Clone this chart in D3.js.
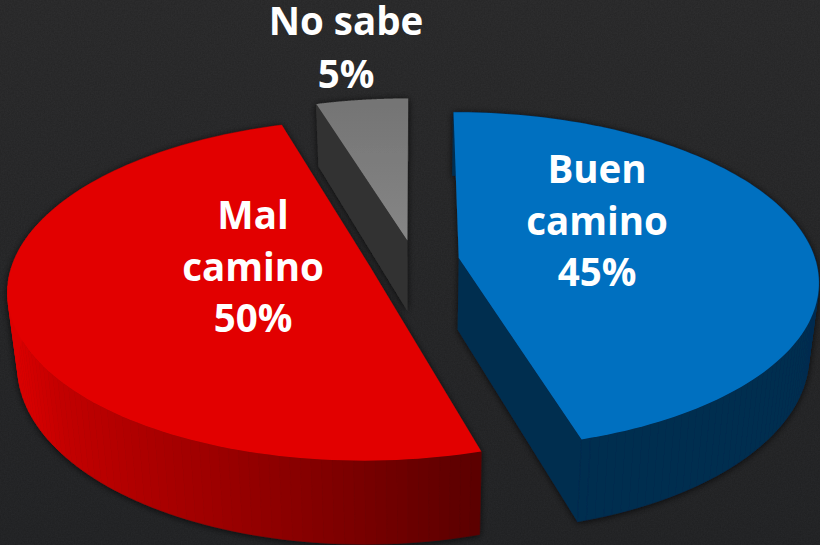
<!DOCTYPE html>
<html><head><meta charset="utf-8">
<script src="https://cdn.jsdelivr.net/npm/d3@7/dist/d3.min.js"></script>
<style>html,body{margin:0;padding:0;background:#28292b;overflow:hidden}svg{display:block}
text{font-family:"Open Sans",sans-serif;font-weight:700;fill:#fff;text-anchor:middle;font-size:38.5px}</style>
</head><body><svg id="c" width="820" height="545"></svg>
<script>
const categories = ["Buen camino", "Mal camino", "No sabe"];
const values = [45.4, 49.85, 4.75];
const labelLines = [["Buen", "camino"], ["Mal", "camino"], ["No sabe"]];

const W = 820, H = 545;
const svg = d3.select("#c");
const defs = svg.append("defs");

// background
const bg = defs.append("linearGradient").attr("id","bg").attr("x1",0).attr("x2",0).attr("y1",0).attr("y2",1);
bg.append("stop").attr("offset",0).attr("stop-color","#2d2d2e");
bg.append("stop").attr("offset",1).attr("stop-color","#252628");
const noise = defs.append("filter").attr("id","noise").attr("x",0).attr("y",0).attr("width","100%").attr("height","100%");
noise.append("feTurbulence").attr("type","fractalNoise").attr("baseFrequency",0.7).attr("numOctaves",2).attr("seed",4);
noise.append("feColorMatrix").attr("type","matrix").attr("values","0 0 0 0 0  0 0 0 0 0  0 0 0 0 0  0.5 0 0 0 -0.14");
const shadow = defs.append("filter").attr("id","sh").attr("x","-10%").attr("y","-10%").attr("width","120%").attr("height","120%");
shadow.append("feDropShadow").attr("dx",0).attr("dy",1).attr("stdDeviation",3.5).attr("flood-color","#000").attr("flood-opacity",0.75);
const grayGrad = defs.append("linearGradient").attr("id","grayTop").attr("x1",0).attr("x2",0).attr("y1",0).attr("y2",1);
grayGrad.append("stop").attr("offset",0).attr("stop-color","#747474");
grayGrad.append("stop").attr("offset",1).attr("stop-color","#868686");

svg.append("rect").attr("width",W).attr("height",H).attr("fill","url(#bg)");
svg.append("rect").attr("width",W).attr("height",H).attr("filter","url(#noise)").attr("opacity",0.5);

// perspective model of the tilted disc
const Cx = 414, Cy = 261, R = 357, S = 166, k = 0.133, ex = 0.127, D = 72, shrink = 0.975;
const project = (X, Z) => {
  const w = 1 + k * Z;
  return { x: Cx + R * X / w, y: Cy - S * Z / w, w };
};
const lower = p => ({ x: Cx + (p.x - Cx) * shrink, y: p.y + D / p.w });
const line = d3.line().x(d => d.x).y(d => d.y);

const arcs = d3.pie().sort(null).startAngle(0).endAngle(2 * Math.PI)(values);
const topFill = ["#0070c0", "#e20000", "url(#grayTop)"];
const redRim = d3.scaleLinear().domain([10, 60, 130, 200, 290, 480]).range(["#dc0000", "#c20000", "#b00000", "#a00000", "#8a0000", "#5a0000"]).clamp(true);
const rimColor = [() => "#012d50", x => redRim(x), () => "#333333"];
const wallFill = ["#012d50", "#5a0000", "#333333"];

const layers = svg.selectAll("g.slice").data(arcs).join("g").attr("class","slice").attr("filter","url(#sh)");
layers.each(function(d, i) {
  const g = d3.select(this);
  const mid = (d.startAngle + d.endAngle) / 2;
  const ox = ex * Math.sin(mid), oz = ex * Math.cos(mid);
  const a0 = d.startAngle, a1 = d.endAngle;
  const steps = d3.range(0, 121).map(t => a0 + (a1 - a0) * t / 120);
  const rimPts = steps.map(a => project(ox + Math.sin(a), oz + Math.cos(a)));
  const apex = project(ox, oz);

  // cut walls
  if (i === 0) {
    const tip = rimPts[rimPts.length - 1];
    g.append("path").attr("fill", wallFill[0]).attr("d", line([apex, tip, lower(tip), lower(apex)]) + "Z");
  }
  if (i === 2) {
    const tip = rimPts[0];
    g.append("path").attr("fill", wallFill[2]).attr("d", line([apex, tip, lower(tip), lower(apex)]) + "Z");
  }
  // outer rim as strips
  d3.pairs(rimPts).forEach(([a, b]) => {
    const c = rimColor[i]((a.x + b.x) / 2);
    g.append("path").attr("fill", c).attr("stroke", c).attr("stroke-width", 0.6)
      .attr("d", line([a, b, lower(b), lower(a)]) + "Z");
  });
  // top face
  g.append("path").attr("fill", topFill[i])
    .attr("d", line([apex, ...rimPts]) + "Z");
});

// labels
const labelX = [597, 253, 346], labelY = [183, 229, 35], lineStep = [51.5, 51.5, 53];
labelLines.forEach((lines, i) => {
  const t = svg.append("text");
  [...lines, d3.format(".0f")(values[i]) + "%"].forEach((s, j) =>
    t.append("tspan").attr("x", labelX[i]).attr("y", labelY[i] + j * lineStep[i]).text(s));
});
</script></body></html>
